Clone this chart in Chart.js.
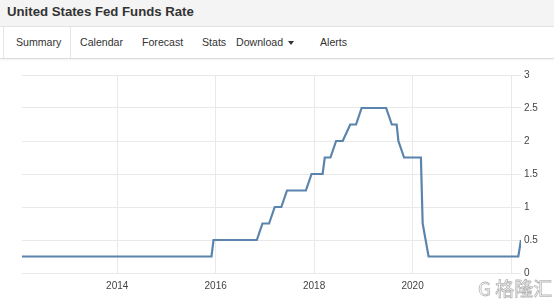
<!DOCTYPE html>
<html>
<head>
<meta charset="utf-8">
<script src="https://cdn.jsdelivr.net/npm/chart.js@4/dist/chart.umd.min.js"></script>
<style>
    body { margin: 0; width: 554px; height: 299px; overflow: hidden; background: #fff; position: relative;
           font-family: Arial, "Liberation Sans", sans-serif; color: #333; }
    .head { position: absolute; left: 0; top: 0; width: 554px; height: 26px; background: #f4f4f4; }
    .head h1 { margin: 0; position: absolute; left: 7px; top: 4px; font-size: 13.2px; font-weight: bold; color: #333; }
    .tabs { position: absolute; left: 0; top: 26px; width: 554px; height: 31px; background: #fff;
            border-top: 1px solid #e3e3e3; border-bottom: 1px solid #dcdcdc; box-shadow: 0 1px 2px rgba(0,0,0,0.06); }
    .tabs span { position: absolute; top: 9px; font-size: 10.6px; color: #333; }
    .tabs .active { left: 3px; top: 0; width: 66px; height: 31px; border-left: 1px solid #e6e6e6; border-right: 1px solid #e6e6e6; }
    .caret { display: inline-block; width: 0; height: 0; border-left: 3px solid transparent; border-right: 3px solid transparent;
             border-top: 4px solid #333; vertical-align: middle; margin-left: 5px; }
    #wrap { position: absolute; left: 0; top: 60px; width: 554px; height: 239px; }
    .mark { position: absolute; left: 478px; top: 274px; font-size: 19px; color: rgba(255,255,255,0.6);
            -webkit-text-stroke: 0.8px rgba(120,120,120,0.55); font-family: "Noto Sans CJK SC", sans-serif; }
</style>
</head>
<body>
<div class="head"><h1>United States Fed Funds Rate</h1></div>
<div class="tabs">
    <span class="active"></span>
    <span style="left:16px">Summary</span>
    <span style="left:80px">Calendar</span>
    <span style="left:142px">Forecast</span>
    <span style="left:202px">Stats</span>
    <span style="left:236px">Download<i class="caret"></i></span>
    <span style="left:320px">Alerts</span>
</div>
<div id="wrap"><canvas id="rateChart"></canvas></div>
<div class="mark">G 格隆汇</div>
<script>
// fechas y valores (limite superior, %)
const dates = ["2012-01-25", "2015-12-01", "2015-12-16", "2016-11-02", "2016-12-14", "2017-02-01", "2017-03-15",
    "2017-05-03", "2017-06-14", "2017-11-01", "2017-12-13", "2018-03-05", "2018-03-21", "2018-05-02", "2018-06-13",
    "2018-08-01", "2018-09-26", "2018-11-08", "2018-12-19", "2019-06-19", "2019-07-31", "2019-09-05", "2019-09-18",
    "2019-10-30", "2020-03-03", "2020-03-16", "2020-04-29", "2022-02-24", "2022-03-16"];
const rates = [0.25, 0.25, 0.5, 0.5, 0.75, 0.75, 1.0,
    1.0, 1.25, 1.25, 1.5, 1.5, 1.75, 1.75, 2.0,
    2.0, 2.25, 2.25, 2.5, 2.5, 2.25, 2.25, 2.0,
    1.75, 1.75, 0.75, 0.25, 0.25, 0.5];
const yearTicks = [2014, 2016, 2018, 2020, 2022];
const yearLabels = ["2014", "2016", "2018", "2020", ""];

function toYear(s) {
    const d = new Date(s + "T00:00:00Z");
    const y = d.getUTCFullYear();
    const start = Date.UTC(y, 0, 1);
    const end = Date.UTC(y + 1, 0, 1);
    return y + (d.getTime() - start) / (end - start);
}

const points = dates.map((d, i) => ({ x: toYear(d), y: rates[i] }));

const ctx = document.getElementById("rateChart").getContext("2d");
const rateChart = new Chart(ctx, {
    type: "line",
    data: {
        datasets: [
            {
                label: "Fed Funds Rate",
                data: points,
                borderColor: "#5b84ad",
                borderWidth: 2.2,
                pointRadius: 0,
                tension: 0,
                fill: false
            }
        ]
    },
    options: {
        responsive: true,
        maintainAspectRatio: false,
        animation: false,
        layout: { padding: { left: 22, top: 15, right: 0, bottom: 0 } },
        plugins: {
            legend: { display: false },
            tooltip: { enabled: false }
        },
        scales: {
            x: {
                type: "linear",
                min: points[0].x,
                max: points[points.length - 1].x,
                afterBuildTicks: (s) => { s.ticks = yearTicks.map(v => ({ value: v })); },
                afterFit: (s) => { s.height = 26; },
                grid: { color: "#e9e9e9", drawTicks: false },
                border: { display: false },
                ticks: {
                    autoSkip: false,
                    maxRotation: 0,
                    padding: 7,
                    color: "#444",
                    font: { size: 10, family: "Arial, 'Liberation Sans', sans-serif" },
                    callback: (v, i) => yearLabels[i]
                }
            },
            y: {
                position: "right",
                min: 0,
                max: 3,
                afterFit: (s) => { s.width = 33; },
                grid: { color: "#e9e9e9", drawTicks: false },
                border: { display: false },
                ticks: {
                    stepSize: 0.5,
                    padding: 3,
                    color: "#444",
                    font: { size: 10, family: "Arial, 'Liberation Sans', sans-serif" },
                    callback: (v) => String(v)
                }
            }
        }
    }
});
</script>
</body>
</html>
